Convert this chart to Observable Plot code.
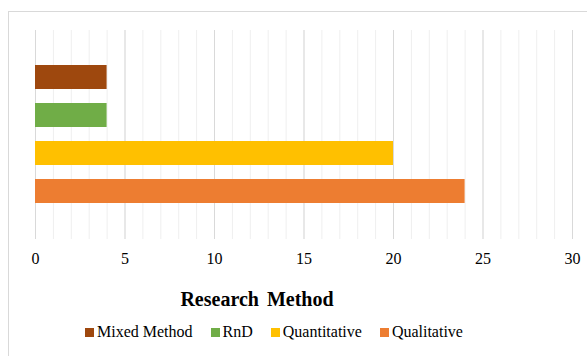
<!DOCTYPE html>
<html>
<head>
<meta charset="utf-8">
<script src="https://cdn.jsdelivr.net/npm/d3@7"></script>
<script src="https://cdn.jsdelivr.net/npm/@observablehq/plot@0.6"></script>
<style>
  html, body { margin: 0; padding: 0; background: #fff; }
  #wrap { position: relative; width: 587px; height: 356px; overflow: hidden; font-family: "Liberation Serif", "Times New Roman", serif; }
  #frame { position: absolute; left: 8px; top: 11px; width: 700px; height: 400px; border: 1px solid #d9d9d9; box-sizing: border-box; }
  #chart { position: absolute; left: 0; top: 0; }
  #chart svg text { font-family: "Liberation Serif", "Times New Roman", serif; font-size: 16px; fill: #000; }
  #title { position: absolute; left: 0; top: 289px; width: 514px; text-align: center; font-size: 20px; line-height: 20px; font-weight: bold; color: #000; word-spacing: 3px; }
  #legend { position: absolute; left: 85px; top: 324px; display: flex; align-items: center; font-size: 16px; line-height: 16px; color: #000; }
  .item { display: flex; align-items: center; margin-right: 18px; }
  .sw { width: 9px; height: 9px; margin-right: 3px; }
</style>
</head>
<body>
<div id="wrap">
  <div id="frame"></div>
  <div id="chart"></div>
  <div id="title">Research Method</div>
  <div id="legend"></div>
</div>
<script>
const categories = ["Mixed Method", "RnD", "Quantitative", "Qualitative"];
const values = [4, 4, 20, 24];
const colors = ["#9E480E", "#70AD47", "#FFC000", "#ED7D31"];
const xTicks = [0, 5, 10, 15, 20, 25, 30];
const minorTicks = d3.range(0, 31);

const data = categories.map((c, i) => ({category: c, value: values[i]}));

const chart = Plot.plot({
  width: 587,
  height: 275,
  marginLeft: 35,
  marginRight: 15,
  marginTop: 30,
  marginBottom: 36,
  style: {fontFamily: "'Liberation Serif', 'Times New Roman', serif", fontSize: "16px", color: "#000", background: "transparent"},
  x: {domain: [0, 30], ticks: xTicks, tickSize: 0, tickPadding: 13, label: null},
  y: {domain: categories, paddingInner: 0.36, paddingOuter: 0.86, axis: null},
  color: {domain: categories, range: colors},
  marks: [
    Plot.ruleX(minorTicks, {stroke: "#efefef", strokeWidth: 1}),
    Plot.ruleX(xTicks, {stroke: "#d9d9d9", strokeWidth: 1}),
    Plot.barX(data, {x: "value", y: "category", fill: "category"}),
    Plot.axisX({ticks: xTicks, tickSize: 0, tickPadding: 13, label: null, fontSize: 16})
  ]
});
document.getElementById("chart").appendChild(chart);

const legend = document.getElementById("legend");
categories.forEach((c, i) => {
  const item = document.createElement("div");
  item.className = "item";
  const sw = document.createElement("div");
  sw.className = "sw";
  sw.style.background = colors[i];
  const t = document.createElement("span");
  t.textContent = c;
  item.appendChild(sw);
  item.appendChild(t);
  legend.appendChild(item);
});
</script>
</body>
</html>
